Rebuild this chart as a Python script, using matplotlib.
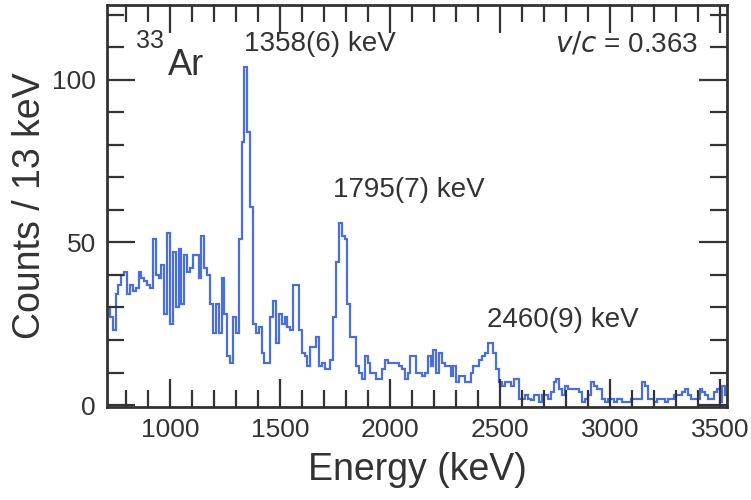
import matplotlib
matplotlib.use("Agg")
import matplotlib.pyplot as plt
import numpy as np
from matplotlib.ticker import MultipleLocator

plt.rcParams['font.family'] = ['Liberation Sans', 'DejaVu Sans']

# spectrum, counts per 13 keV bin starting at 715 keV
bin_start = 715
bin_width = 13
counts = [
    30, 27, 23, 34, 37, 40, 41, 34, 37, 35,
    36, 41, 39, 38, 37, 36, 51, 40, 39, 43,
    28, 53, 25, 47, 30, 48, 31, 46, 41, 42,
    46, 46, 39, 52, 42, 40, 31, 22, 31, 22,
    39, 28, 15, 13, 27, 22, 51, 81, 104, 84,
    61, 25, 22, 24, 16, 13, 13, 27, 32, 19,
    28, 25, 27, 24, 23, 37, 37, 23, 16, 15,
    12, 18, 18, 21, 12, 13, 11, 11, 14, 27,
    44, 56, 52, 51, 31, 21, 21, 12, 10, 8,
    15, 13, 10, 10, 8, 8, 11, 14, 13, 13,
    13, 13, 12, 11, 8, 10, 15, 15, 10, 10,
    9, 10, 15, 12, 17, 10, 16, 13, 12, 12,
    9, 12, 7, 9, 9, 7, 7, 10, 12, 12,
    14, 15, 16, 19, 19, 16, 11, 7, 6,
    7, 7, 6, 8, 8, 2, 2, 3, 2, 1.5,
    3, 3, 1, 3, 3, 2, 4, 7, 8, 5,
    3, 6, 5, 5, 5, 5, 4, 1, 2, 3,
    7, 6, 5, 5, 2, 1, 2, 2, 1, 2,
    2, 1, 1, 1, 2, 2, 2, 2, 7, 6,
    2, 2, 1, 2, 2, 2, 1, 2, 2, 3,
    3, 3, 4, 5, 3, 2, 2, 2, 5, 4,
    3, 2, 2, 4, 5, 1, 6, 3,
]
edges = bin_start + bin_width * np.arange(len(counts) + 1)

text_col = '#333333'
line_col = '#4a6fd8'

fig = plt.figure(figsize=(7.51, 5.0), dpi=100)
ax = fig.add_axes([0.1425, 0.186, 0.826, 0.804])

ax.stairs(counts, edges, color=line_col, linewidth=1.6)

ax.set_xlim(715, 3532)
ax.set_ylim(-0.6, 123)

ax.xaxis.set_major_locator(MultipleLocator(500))
ax.xaxis.set_minor_locator(MultipleLocator(100))
ax.yaxis.set_major_locator(MultipleLocator(50))
ax.yaxis.set_minor_locator(MultipleLocator(10))
ax.tick_params(which='both', direction='in', top=True, right=True,
               colors=text_col, labelsize=19, width=1.6)
ax.tick_params(which='major', length=20, pad=8)
ax.tick_params(which='minor', length=12)
for s in ax.spines.values():
    s.set_linewidth(2)
    s.set_color(text_col)

ax.set_xlabel('Energy (keV)', fontsize=27, color=text_col, labelpad=7)
ax.set_ylabel('Counts / 13 keV', fontsize=27, color=text_col, labelpad=3)

# labels
ax.text(845, 112, '33', fontsize=18, color=text_col, va='center')
ax.text(990, 104.5, 'Ar', fontsize=26, color=text_col, va='center')
ax.text(1335, 111, '1358(6) keV', fontsize=20, color=text_col, va='center')
ax.text(1742, 66, '1795(7) keV', fontsize=20, color=text_col, va='center')
ax.text(2442, 26, '2460(9) keV', fontsize=20, color=text_col, va='center')
ax.text(3400, 111, r'$v/c$ = 0.363', fontsize=20, color=text_col,
        va='center', ha='right')

fig.savefig('out.png', dpi=100)
